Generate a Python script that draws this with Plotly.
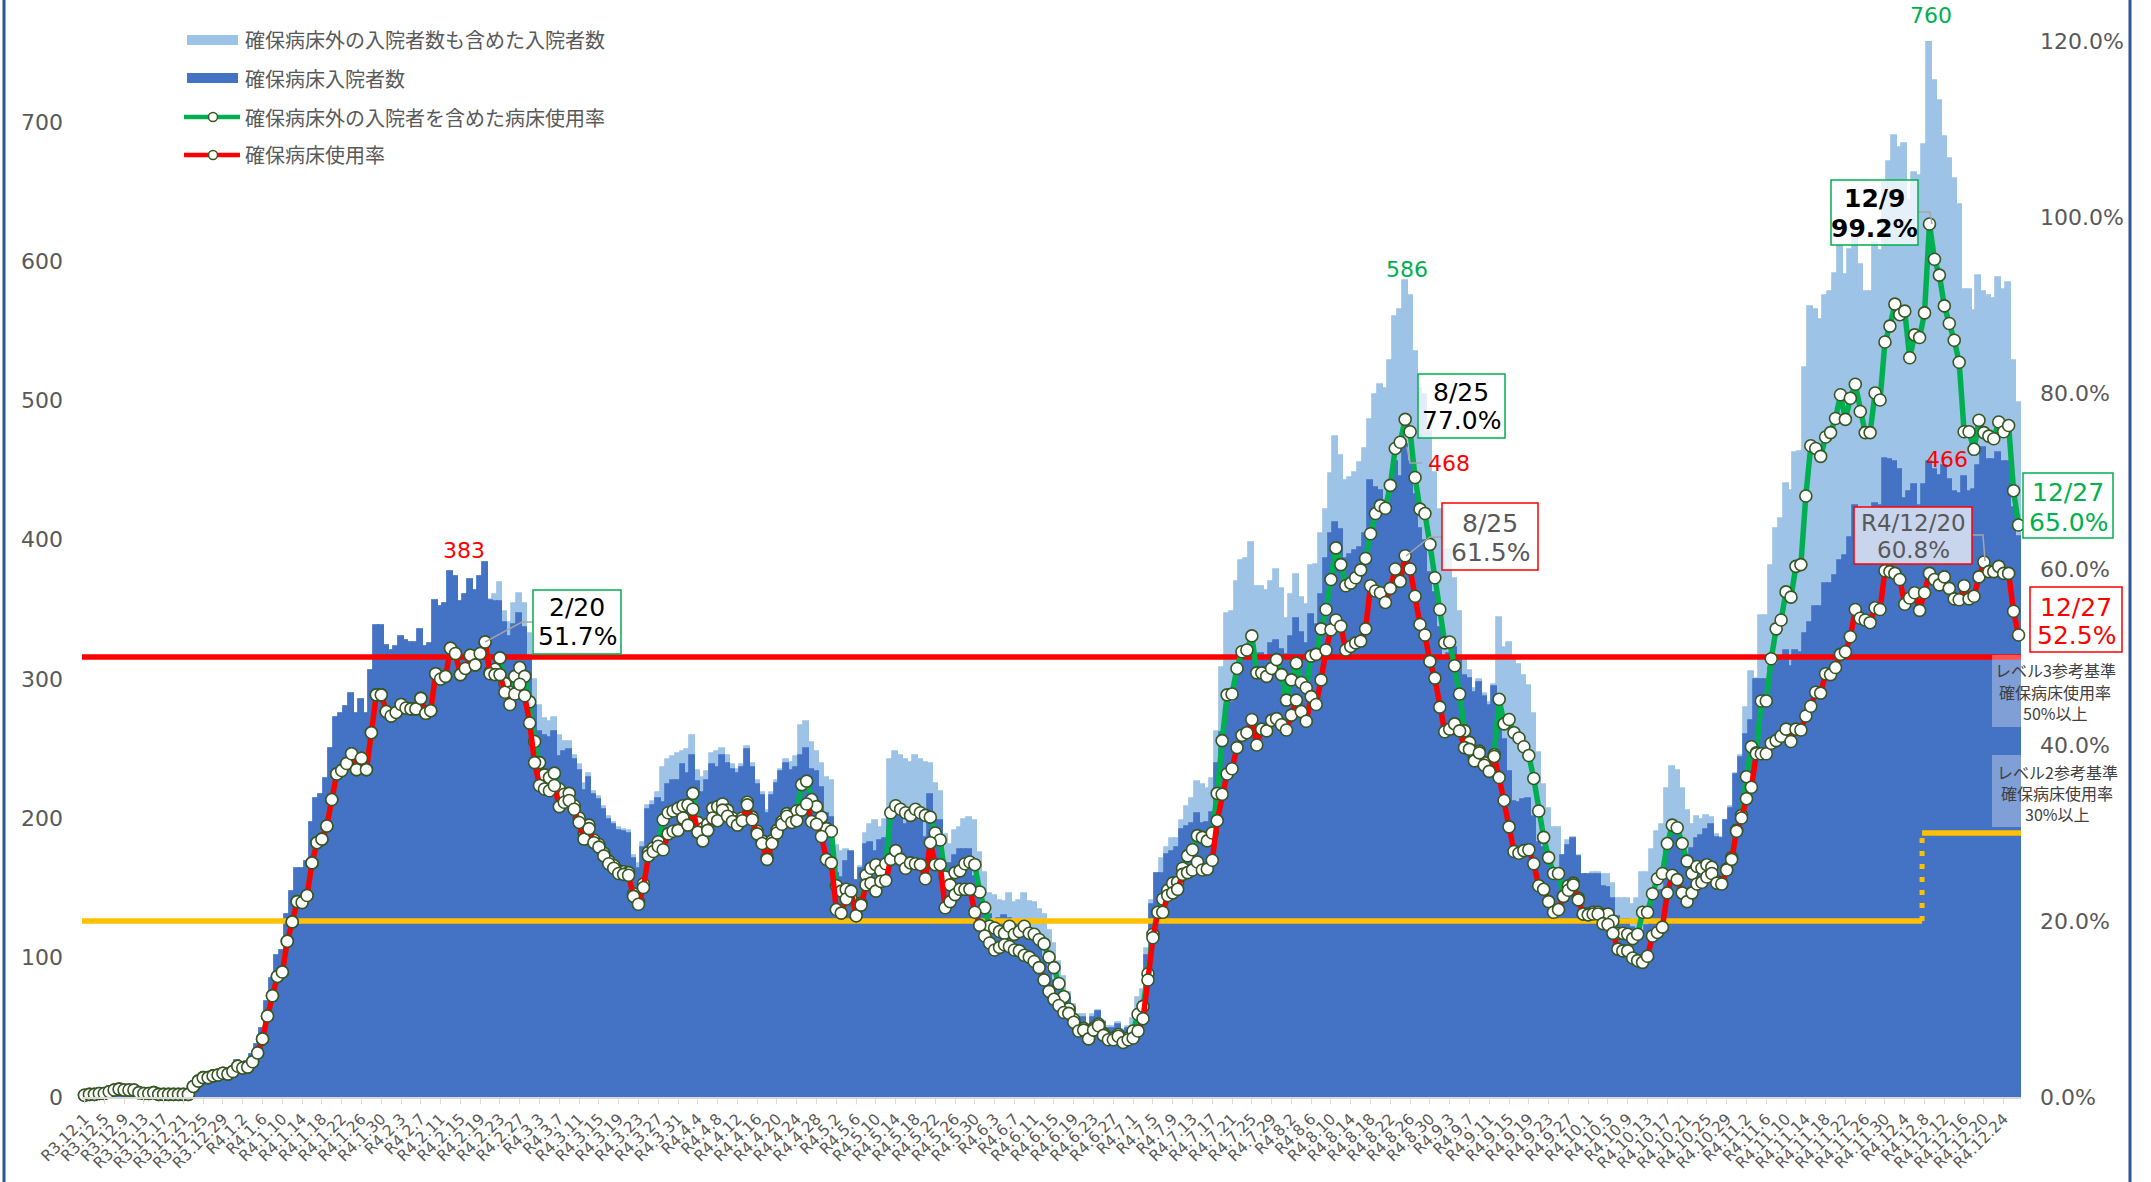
import plotly.graph_objects as go

# ---------------- data (daily, R3.12.1 .. R4.12.27) ----------------
days = list(range(392))

tick_positions = list(range(0, 392, 4))
tick_labels = [
    "R3.12.1", "R3.12.5", "R3.12.9", "R3.12.13", "R3.12.17", "R3.12.21", "R3.12.25", "R3.12.29",
    "R4.1.2", "R4.1.6", "R4.1.10", "R4.1.14", "R4.1.18", "R4.1.22", "R4.1.26", "R4.1.30",
    "R4.2.3", "R4.2.7", "R4.2.11", "R4.2.15", "R4.2.19", "R4.2.23", "R4.2.27",
    "R4.3.3", "R4.3.7", "R4.3.11", "R4.3.15", "R4.3.19", "R4.3.23", "R4.3.27", "R4.3.31",
    "R4.4.4", "R4.4.8", "R4.4.12", "R4.4.16", "R4.4.20", "R4.4.24", "R4.4.28",
    "R4.5.2", "R4.5.6", "R4.5.10", "R4.5.14", "R4.5.18", "R4.5.22", "R4.5.26", "R4.5.30",
    "R4.6.3", "R4.6.7", "R4.6.11", "R4.6.15", "R4.6.19", "R4.6.23", "R4.6.27",
    "R4.7.1", "R4.7.5", "R4.7.9", "R4.7.13", "R4.7.17", "R4.7.21", "R4.7.25", "R4.7.29",
    "R4.8.2", "R4.8.6", "R4.8.10", "R4.8.14", "R4.8.18", "R4.8.22", "R4.8.26", "R4.8.30",
    "R4.9.3", "R4.9.7", "R4.9.11", "R4.9.15", "R4.9.19", "R4.9.23", "R4.9.27",
    "R4.10.1", "R4.10.5", "R4.10.9", "R4.10.13", "R4.10.17", "R4.10.21", "R4.10.25", "R4.10.29",
    "R4.11.2", "R4.11.6", "R4.11.10", "R4.11.14", "R4.11.18", "R4.11.22", "R4.11.26", "R4.11.30",
    "R4.12.4", "R4.12.8", "R4.12.12", "R4.12.16", "R4.12.20", "R4.12.24",
]

rate_ticks = [0, 20, 40, 60, 80, 100, 120]
rate_tick_labels = ["0.0%", "20.0%", "40.0%", "60.0%", "80.0%", "100.0%", "120.0%"]
count_ticks = [0, 100, 200, 300, 400, 500, 600, 700]

# 確保病床入院者数 (dark bars)
secured_inpatients = [
    1, 2, 2, 3, 3, 4, 6, 7, 6, 6,
    6, 4, 3, 3, 4, 2, 2, 2, 2, 2,
    2, 2, 9, 13, 16, 16, 18, 19, 20, 19,
    21, 26, 24, 25, 30, 37, 49, 68, 85, 101,
    105, 131, 147, 164, 164, 169, 197, 214, 217, 228,
    250, 272, 275, 280, 289, 275, 285, 275, 306, 338,
    338, 324, 320, 323, 330, 327, 326, 326, 335, 323,
    325, 356, 352, 354, 377, 373, 355, 360, 371, 363,
    373, 383, 356, 355, 355, 340, 330, 339, 347, 337,
    315, 281, 262, 259, 258, 262, 244, 248, 249, 242,
    234, 220, 229, 217, 213, 206, 199, 195, 191, 190,
    189, 171, 164, 179, 206, 209, 214, 211, 224, 227,
    227, 238, 232, 245, 226, 218, 227, 238, 236, 245,
    239, 235, 232, 236, 249, 236, 224, 216, 203, 216,
    225, 233, 239, 234, 236, 245, 250, 235, 233, 222,
    203, 200, 160, 157, 169, 176, 155, 164, 181, 182,
    176, 184, 185, 203, 210, 203, 195, 200, 199, 198,
    186, 217, 198, 198, 161, 167, 173, 177, 177, 177,
    158, 146, 137, 131, 125, 128, 130, 128, 125, 125,
    121, 119, 116, 110, 100, 90, 83, 78, 72, 71,
    64, 56, 57, 50, 57, 61, 53, 49, 49, 52,
    47, 49, 50, 56, 67, 101, 138, 160, 160, 174,
    176, 179, 192, 194, 196, 203, 196, 197, 204, 239,
    261, 279, 283, 302, 312, 315, 326, 304, 318, 316,
    325, 327, 321, 317, 330, 343, 333, 325, 346, 339,
    360, 386, 404, 412, 407, 386, 389, 392, 394, 404,
    442, 437, 435, 427, 439, 456, 445, 468, 456, 432,
    408, 399, 376, 362, 337, 315, 318, 322, 316, 302,
    300, 290, 297, 287, 281, 294, 276, 256, 233, 212,
    211, 213, 214, 201, 182, 179, 169, 160, 162, 173,
    180, 185, 172, 159, 159, 159, 159, 151, 150, 142,
    129, 127, 127, 121, 119, 117, 123, 140, 143, 148,
    178, 193, 189, 178, 170, 178, 185, 187, 192, 195,
    186, 185, 198, 207, 231, 243, 260, 270, 299, 299,
    299, 308, 310, 314, 320, 309, 320, 319, 332, 340,
    352, 352, 368, 368, 374, 385, 388, 401, 424, 417,
    415, 413, 426, 424, 458, 457, 456, 450, 429, 434,
    439, 424, 439, 456, 450, 446, 453, 443, 434, 433,
    445, 434, 436, 453, 466, 457, 457, 462, 456, 456,
    423, 402,
]

# 確保病床外の入院者数も含めた入院者数 (light bars)
total_inpatients = [
    1, 2, 2, 3, 3, 4, 6, 7, 6, 6,
    6, 4, 3, 3, 4, 2, 2, 2, 2, 2,
    2, 2, 9, 13, 16, 16, 18, 19, 20, 19,
    21, 26, 24, 25, 30, 37, 49, 68, 85, 101,
    105, 131, 147, 164, 164, 169, 197, 214, 217, 228,
    250, 272, 275, 280, 289, 275, 285, 275, 306, 338,
    338, 324, 320, 323, 330, 327, 326, 326, 335, 323,
    325, 356, 352, 354, 377, 373, 355, 360, 371, 363,
    373, 383, 357, 360, 369, 348, 340, 354, 361, 354,
    332, 299, 281, 271, 269, 272, 259, 255, 255, 245,
    238, 225, 232, 219, 215, 208, 201, 197, 193, 192,
    191, 173, 167, 182, 209, 212, 218, 236, 242, 244,
    246, 248, 249, 259, 234, 229, 233, 246, 248, 250,
    245, 238, 235, 238, 251, 239, 227, 218, 205, 218,
    227, 235, 242, 240, 244, 266, 269, 254, 248, 239,
    229, 227, 180, 176, 177, 169, 155, 165, 189, 195,
    198, 193, 199, 242, 248, 245, 242, 240, 245, 242,
    240, 239, 225, 219, 188, 181, 191, 193, 199, 200,
    198, 175, 161, 146, 144, 141, 140, 146, 139, 141,
    146, 140, 139, 134, 131, 119, 110, 97, 86, 75,
    66, 59, 59, 51, 59, 62, 54, 50, 50, 53,
    48, 50, 56, 71, 77, 106, 141, 160, 171, 179,
    185, 185, 198, 208, 214, 226, 224, 221, 228, 262,
    308, 347, 348, 370, 385, 386, 398, 366, 366, 363,
    370, 378, 365, 343, 360, 375, 358, 353, 381, 382,
    404, 421, 447, 474, 460, 442, 444, 448, 455, 465,
    486, 504, 511, 508, 528, 560, 565, 586, 575, 535,
    508, 504, 477, 448, 421, 392, 393, 372, 348, 316,
    306, 293, 299, 289, 283, 296, 344, 322, 326, 315,
    310, 302, 295, 275, 247, 224, 207, 193, 193, 173,
    184, 186, 173, 159, 159, 161, 161, 159, 159, 153,
    142, 142, 142, 138, 142, 161, 161, 177, 190, 195,
    221, 237, 234, 221, 205, 195, 201, 199, 202, 200,
    188, 186, 198, 208, 232, 245, 279, 305, 300, 345,
    345, 381, 408, 415, 440, 435, 462, 463, 523, 567,
    565, 558, 575, 578, 591, 611, 590, 608, 620, 597,
    578, 578, 613, 607, 657, 671, 690, 681, 684, 643,
    663, 661, 683, 760, 729, 715, 689, 673, 659, 640,
    579, 579, 564, 589, 578, 575, 573, 588, 579, 584,
    528, 498,
]

# 確保病床使用率 (%)
secured_rate = [
    0.2, 0.3, 0.3, 0.4, 0.4, 0.6, 0.8, 0.9, 0.8, 0.8,
    0.8, 0.5, 0.4, 0.4, 0.5, 0.3, 0.3, 0.3, 0.3, 0.3,
    0.3, 0.3, 1.2, 1.8, 2.2, 2.2, 2.4, 2.5, 2.7, 2.6,
    2.9, 3.5, 3.3, 3.4, 4.0, 5.0, 6.6, 9.2, 11.5, 13.7,
    14.2, 17.7, 19.9, 22.2, 22.1, 22.9, 26.6, 28.9, 29.3, 30.8,
    33.8, 36.7, 37.1, 37.9, 39.0, 37.2, 38.5, 37.2, 41.4, 45.7,
    45.7, 43.8, 43.3, 43.7, 44.6, 44.2, 44.1, 44.1, 45.3, 43.6,
    43.9, 48.1, 47.5, 47.8, 51.0, 50.4, 48.0, 48.7, 50.2, 49.1,
    50.4, 51.7, 48.1, 48.0, 48.0, 46.0, 44.6, 45.8, 46.9, 45.6,
    42.5, 38.0, 35.4, 35.0, 34.8, 35.4, 33.0, 33.5, 33.7, 32.7,
    31.2, 29.3, 30.5, 28.9, 28.4, 27.4, 26.5, 26.0, 25.4, 25.3,
    25.2, 22.8, 21.9, 23.8, 27.4, 27.9, 28.5, 28.1, 29.9, 30.2,
    30.3, 31.7, 30.9, 32.7, 30.1, 29.1, 30.3, 31.7, 31.4, 32.6,
    31.9, 31.3, 30.9, 31.4, 33.2, 31.5, 29.9, 28.8, 27.0, 28.8,
    30.0, 31.0, 31.9, 31.2, 31.4, 32.6, 33.3, 31.3, 31.0, 29.6,
    27.0, 26.6, 21.3, 20.9, 22.5, 23.4, 20.6, 21.8, 24.1, 24.3,
    23.4, 24.5, 24.6, 27.0, 28.0, 27.0, 26.0, 26.6, 26.5, 26.4,
    24.8, 28.9, 26.4, 26.4, 21.5, 22.2, 23.0, 23.6, 23.6, 23.6,
    21.0, 19.5, 18.3, 17.5, 16.7, 17.0, 17.3, 17.1, 16.7, 16.6,
    16.1, 15.9, 15.4, 14.7, 13.3, 12.0, 11.1, 10.4, 9.6, 9.5,
    8.5, 7.5, 7.6, 6.6, 7.6, 8.1, 7.0, 6.5, 6.5, 6.9,
    6.2, 6.5, 6.7, 7.5, 8.9, 13.3, 18.1, 21.0, 21.0, 22.9,
    23.2, 23.6, 25.3, 25.5, 25.8, 26.7, 25.8, 25.9, 26.9, 31.4,
    34.4, 36.7, 37.3, 39.7, 41.1, 41.4, 42.9, 40.0, 41.8, 41.6,
    42.8, 43.0, 42.3, 41.7, 43.4, 45.1, 43.8, 42.7, 45.5, 44.6,
    47.4, 50.8, 53.1, 54.2, 53.5, 50.8, 51.2, 51.6, 51.8, 53.2,
    58.1, 57.5, 57.3, 56.2, 57.8, 60.0, 58.6, 61.5, 60.0, 56.9,
    53.7, 52.5, 49.5, 47.6, 44.3, 41.5, 41.8, 42.4, 41.6, 39.7,
    39.5, 38.2, 39.1, 37.7, 37.0, 38.7, 36.3, 33.7, 30.7, 27.9,
    27.7, 28.0, 28.1, 26.5, 24.0, 23.6, 22.2, 21.0, 21.3, 22.8,
    23.5, 24.1, 22.4, 20.8, 20.7, 20.8, 20.8, 19.7, 19.6, 18.6,
    16.8, 16.6, 16.6, 15.8, 15.5, 15.3, 16.0, 18.3, 18.7, 19.3,
    23.2, 25.2, 24.7, 23.2, 22.2, 23.2, 24.2, 24.4, 25.0, 25.4,
    24.3, 24.2, 25.8, 27.0, 30.2, 31.7, 33.9, 35.2, 39.0, 39.0,
    39.0, 40.2, 40.5, 41.0, 41.8, 40.4, 41.8, 41.7, 43.3, 44.4,
    46.0, 45.9, 48.1, 48.0, 48.8, 50.3, 50.6, 52.3, 55.4, 54.4,
    54.2, 53.9, 55.6, 55.4, 59.8, 59.7, 59.5, 58.8, 56.0, 56.7,
    57.3, 55.3, 57.3, 59.5, 58.8, 58.2, 59.1, 57.8, 56.6, 56.5,
    58.1, 56.6, 56.9, 59.1, 60.8, 59.7, 59.7, 60.3, 59.5, 59.5,
    55.2, 52.5,
]

# 確保病床外の入院者を含めた病床使用率 (%)
total_rate = [
    0.2, 0.3, 0.3, 0.4, 0.4, 0.6, 0.8, 0.9, 0.8, 0.8,
    0.8, 0.5, 0.4, 0.4, 0.5, 0.3, 0.3, 0.3, 0.3, 0.3,
    0.3, 0.3, 1.2, 1.8, 2.2, 2.2, 2.4, 2.5, 2.7, 2.6,
    2.9, 3.5, 3.3, 3.4, 4.0, 5.0, 6.6, 9.2, 11.5, 13.7,
    14.2, 17.7, 19.9, 22.2, 22.1, 22.9, 26.6, 28.9, 29.3, 30.8,
    33.8, 36.7, 37.1, 37.9, 39.0, 37.2, 38.5, 37.2, 41.4, 45.7,
    45.7, 43.8, 43.3, 43.7, 44.6, 44.2, 44.1, 44.1, 45.3, 43.6,
    43.9, 48.1, 47.5, 47.8, 51.0, 50.4, 48.0, 48.7, 50.2, 49.1,
    50.4, 51.7, 48.3, 48.6, 49.9, 47.0, 46.0, 47.8, 48.8, 47.8,
    44.9, 40.4, 38.0, 36.6, 36.3, 36.8, 35.0, 34.4, 34.5, 33.1,
    31.7, 30.0, 30.9, 29.2, 28.7, 27.7, 26.8, 26.3, 25.7, 25.6,
    25.5, 23.1, 22.2, 24.2, 27.8, 28.3, 29.0, 31.5, 32.3, 32.5,
    32.8, 33.1, 33.2, 34.5, 31.2, 30.5, 31.0, 32.8, 33.0, 33.3,
    32.6, 31.7, 31.3, 31.7, 33.5, 31.8, 30.2, 29.1, 27.3, 29.1,
    30.3, 31.3, 32.2, 32.0, 32.5, 35.5, 35.9, 33.8, 33.0, 31.8,
    30.5, 30.2, 24.0, 23.4, 23.6, 22.5, 20.6, 22.0, 25.2, 26.0,
    26.4, 25.7, 26.5, 32.3, 33.1, 32.7, 32.3, 32.0, 32.7, 32.3,
    32.0, 31.8, 30.0, 29.2, 25.0, 24.1, 25.5, 25.7, 26.5, 26.7,
    26.4, 23.3, 21.5, 19.4, 19.2, 18.8, 18.6, 19.4, 18.5, 18.8,
    19.4, 18.6, 18.5, 17.9, 17.4, 15.9, 14.7, 12.9, 11.4, 10.0,
    8.8, 7.8, 7.8, 6.8, 7.8, 8.3, 7.2, 6.7, 6.7, 7.1,
    6.4, 6.7, 7.5, 9.4, 10.3, 14.0, 18.5, 21.0, 22.5, 23.5,
    24.3, 24.4, 26.0, 27.4, 28.1, 29.7, 29.5, 29.1, 30.0, 34.5,
    40.5, 45.7, 45.8, 48.7, 50.6, 50.8, 52.4, 48.2, 48.2, 47.8,
    48.7, 49.7, 48.0, 45.1, 47.4, 49.3, 47.1, 46.5, 50.1, 50.3,
    53.2, 55.4, 58.8, 62.4, 60.5, 58.1, 58.4, 59.0, 59.9, 61.2,
    64.0, 66.3, 67.2, 66.9, 69.5, 73.7, 74.4, 77.0, 75.6, 70.4,
    66.8, 66.3, 62.8, 59.0, 55.4, 51.6, 51.7, 49.0, 45.8, 41.6,
    40.3, 38.5, 39.3, 38.0, 37.2, 38.9, 45.2, 42.4, 42.9, 41.4,
    40.8, 39.8, 38.8, 36.2, 32.5, 29.5, 27.2, 25.4, 25.4, 22.8,
    24.0, 24.3, 22.6, 20.8, 20.8, 21.0, 21.0, 20.7, 20.8, 20.0,
    18.6, 18.6, 18.5, 18.0, 18.5, 21.0, 21.0, 23.1, 24.8, 25.4,
    28.8, 30.9, 30.6, 28.8, 26.8, 25.4, 26.2, 26.0, 26.4, 26.1,
    24.5, 24.3, 25.9, 27.2, 30.3, 32.0, 36.4, 39.8, 39.1, 45.0,
    45.0, 49.8, 53.2, 54.2, 57.4, 56.8, 60.3, 60.5, 68.3, 74.0,
    73.7, 72.8, 75.0, 75.5, 77.1, 79.8, 77.0, 79.4, 81.0, 77.9,
    75.5, 75.5, 80.0, 79.2, 85.8, 87.6, 90.1, 88.9, 89.3, 84.0,
    86.6, 86.3, 89.1, 99.2, 95.2, 93.4, 89.9, 87.9, 86.0, 83.5,
    75.6, 75.6, 73.6, 76.9, 75.5, 75.1, 74.8, 76.7, 75.6, 76.3,
    68.9, 65.0,
]

level3_rate = 50      # レベル3参考基準 (%)
level2_rate_old = 20  # 旧レベル2基準 (%)
level2_rate_new = 30  # レベル2参考基準 (%)

# ---------------- styling helpers ----------------
W, H = 2151, 1182
ML, MR, MT, MB = 82, 130, 41, 85
PW = W - ML - MR
PH = H - MT - MB

def px(x):
    return (x - ML) / PW

def py(y):
    return (H - MB - y) / PH

NUM_FONT = "DejaVu Sans, Noto Sans CJK JP, sans-serif"
JP_FONT = "Noto Sans CJK JP, sans-serif"
GRAY = "#595959"
GREEN = "#00B050"
RED = "#FF0000"
LIGHT = "#9DC3E6"
DARK = "#4472C4"
YELLOW = "#FFC000"
MARK_EDGE = "#375623"

fig = go.Figure()

fig.add_trace(go.Bar(x=days, y=total_inpatients, marker=dict(color=LIGHT, line=dict(color=LIGHT, width=1.8)),
                     name="確保病床外の入院者数も含めた入院者数", showlegend=False))
fig.add_trace(go.Bar(x=days, y=secured_inpatients, marker=dict(color=DARK, line=dict(color=DARK, width=1.8)),
                     name="確保病床入院者数", showlegend=False))

x_left, x_right, x_switch = -0.5, 391.5, 371.5
fig.add_trace(go.Scatter(x=[x_left, x_right], y=[level3_rate, level3_rate], yaxis="y2", mode="lines",
                         line=dict(color=RED, width=5.5), showlegend=False, hoverinfo="skip"))
fig.add_trace(go.Scatter(x=[x_left, x_switch], y=[level2_rate_old, level2_rate_old], yaxis="y2", mode="lines",
                         line=dict(color=YELLOW, width=5.5), showlegend=False, hoverinfo="skip"))
fig.add_trace(go.Scatter(x=[x_switch, x_switch], y=[level2_rate_old, level2_rate_new], yaxis="y2", mode="lines",
                         line=dict(color=YELLOW, width=5, dash="5px,8px"), showlegend=False, hoverinfo="skip"))
fig.add_trace(go.Scatter(x=[x_switch, x_right], y=[level2_rate_new, level2_rate_new], yaxis="y2", mode="lines",
                         line=dict(color=YELLOW, width=5.5), showlegend=False, hoverinfo="skip"))

fig.add_trace(go.Scatter(x=days, y=total_rate, yaxis="y2", mode="lines+markers",
                         line=dict(color=GREEN, width=5.5),
                         marker=dict(size=12, color="white", line=dict(color=MARK_EDGE, width=1.6)),
                         cliponaxis=False, showlegend=False, name="確保病床外の入院者を含めた病床使用率"))
fig.add_trace(go.Scatter(x=days, y=secured_rate, yaxis="y2", mode="lines+markers",
                         line=dict(color=RED, width=5.5),
                         marker=dict(size=12, color="white", line=dict(color=MARK_EDGE, width=1.6)),
                         cliponaxis=False, showlegend=False, name="確保病床使用率"))

shapes = []
annotations = []

def text(x, y, s, size, color, font=NUM_FONT, anchor="center"):
    annotations.append(dict(xref="paper", yref="paper", x=px(x), y=py(y), text=s, showarrow=False,
                            xanchor=anchor, yanchor="middle", font=dict(family=font, size=size, color=color)))

def box(x0, y0, x1, y1, line_color, fill, lw=1.5):
    shapes.append(dict(type="rect", xref="paper", yref="paper", x0=px(x0), x1=px(x1), y0=py(y1), y1=py(y0),
                       line=dict(color=line_color, width=lw), fillcolor=fill, layer="above"))

def leader(points):
    path = "M " + " L ".join(f"{px(a)},{py(b)}" for a, b in points)
    shapes.append(dict(type="path", xref="paper", yref="paper", path=path,
                       line=dict(color="#A6A6A6", width=1.5), layer="above"))

# chart frame lines (left / right)
for xx in (4, 2130):
    shapes.append(dict(type="line", xref="paper", yref="paper", x0=px(xx), x1=px(xx), y0=py(H), y1=py(0),
                       line=dict(color="#2F5597", width=3), layer="above"))

# legend (custom)
leg_rows = [40, 78, 117, 155]
shapes.append(dict(type="rect", xref="paper", yref="paper", x0=px(187), x1=px(238), y0=py(leg_rows[0] + 5),
                   y1=py(leg_rows[0] - 5), line=dict(width=0), fillcolor=LIGHT, layer="above"))
shapes.append(dict(type="rect", xref="paper", yref="paper", x0=px(187), x1=px(238), y0=py(leg_rows[1] + 5),
                   y1=py(leg_rows[1] - 5), line=dict(width=0), fillcolor=DARK, layer="above"))
for row, col in ((leg_rows[2], GREEN), (leg_rows[3], RED)):
    shapes.append(dict(type="line", xref="paper", yref="paper", x0=px(184), x1=px(240), y0=py(row), y1=py(row),
                       line=dict(color=col, width=4.5), layer="above"))
    shapes.append(dict(type="circle", xref="paper", yref="paper", x0=px(208.5), x1=px(217.5),
                       y0=py(row + 4.5), y1=py(row - 4.5), line=dict(color=MARK_EDGE, width=1.5),
                       fillcolor="white", layer="above"))
legend_texts = ["確保病床外の入院者数も含めた入院者数", "確保病床入院者数",
                "確保病床外の入院者を含めた病床使用率", "確保病床使用率"]
for row, s in zip(leg_rows, legend_texts):
    text(243, row, s, 20, GRAY, JP_FONT, "left")

# peak value labels
text(464, 550, "383", 22, RED)
text(1407, 270, "586", 22, GREEN)
text(1449, 464, "468", 22, RED)
text(1931, 16, "760", 22, GREEN)
text(1947, 460, "466", 22, RED)

# callout boxes
leader([(485, 642), (522, 622), (533, 622)])
box(533, 590, 621, 654, GREEN, "rgba(255,255,255,0.85)")
text(577, 607, "2/20", 25, "#000000")
text(577, 636, "51.7%", 25, "#000000")

leader([(1407, 447), (1410, 463), (1422, 463)])
box(1418, 374, 1505, 438, GREEN, "rgba(255,255,255,0.7)")
text(1461, 392, "8/25", 25, "#000000")
text(1461, 420, "77.0%", 25, "#000000")

leader([(1406, 556), (1430, 537), (1442, 537)])
box(1442, 503, 1538, 570, RED, "rgba(255,255,255,0.8)")
text(1490, 523, "8/25", 25, GRAY)
text(1490, 552, "61.5%", 25, GRAY)

leader([(1932, 224), (1930, 212), (1918, 212)])
box(1831, 180, 1918, 245, GREEN, "rgba(255,255,255,0.75)")
text(1874, 198, "<b>12/9</b>", 25, "#000000")
text(1874, 228, "<b>99.2%</b>", 25, "#000000")

leader([(1985, 561), (1983, 535), (1972, 535)])
box(1854, 507, 1972, 564, RED, "#C9D5EC")
text(1913, 523, "R4/12/20", 23, GRAY)
text(1913, 550, "60.8%", 23, GRAY)

box(2023, 473, 2113, 538, GREEN, "white")
text(2068, 493, "12/27", 25, GREEN)
text(2068, 522, "65.0%", 25, GREEN)

box(2030, 587, 2122, 652, RED, "white")
text(2076, 607, "12/27", 25, RED)
text(2076, 635, "52.5%", 25, RED)

# level reference boxes
shapes.append(dict(type="rect", xref="paper", yref="paper", x0=px(1992), x1=px(2117), y0=py(727), y1=py(655),
                   line=dict(width=0), fillcolor="rgba(255,255,255,0.32)", layer="above"))
shapes.append(dict(type="rect", xref="paper", yref="paper", x0=px(1992), x1=px(2122), y0=py(827), y1=py(755),
                   line=dict(width=0), fillcolor="rgba(255,255,255,0.32)", layer="above"))
for yy, s in zip((670, 692, 713), ("レベル3参考基準", "確保病床使用率", "50%以上")):
    text(2055, yy, s, 16, "#404040", JP_FONT)
for yy, s in zip((772, 793, 814), ("レベル2参考基準", "確保病床使用率", "30%以上")):
    text(2057, yy, s, 16, "#404040", JP_FONT)

fig.update_layout(
    width=W, height=H, autosize=False,
    margin=dict(l=ML, r=MR, t=MT, b=MB, pad=0, autoexpand=False),
    paper_bgcolor="white", plot_bgcolor="white",
    barmode="overlay", bargap=0,
    showlegend=False,
    shapes=shapes, annotations=annotations,
    xaxis=dict(range=[x_left, x_right], tickmode="array", tickvals=tick_positions, ticktext=tick_labels,
               tickangle=-45, tickfont=dict(family=NUM_FONT, size=15.5, color=GRAY),
               ticks="outside", ticklen=5, tickcolor="#D9D9D9", tickwidth=1, automargin=False,
               showline=True, linecolor="#D9D9D9", linewidth=1.5, showgrid=False, zeroline=False),
    yaxis=dict(range=[0, 758], tickmode="array", tickvals=count_ticks, automargin=False,
               tickfont=dict(family=NUM_FONT, size=22, color=GRAY), showgrid=False, zeroline=False,
               showline=False, ticklabelstandoff=18),
    yaxis2=dict(range=[0, 120], overlaying="y", side="right", tickmode="array", tickvals=rate_ticks,
                ticktext=rate_tick_labels, tickfont=dict(family=NUM_FONT, size=22, color=GRAY),
                automargin=False, showgrid=False, zeroline=False, showline=False, ticklabelstandoff=18),
)

fig.write_html("out.html", config={"displayModeBar": False},
               post_script="document.body.style.margin='0';document.body.style.overflow='hidden';")
